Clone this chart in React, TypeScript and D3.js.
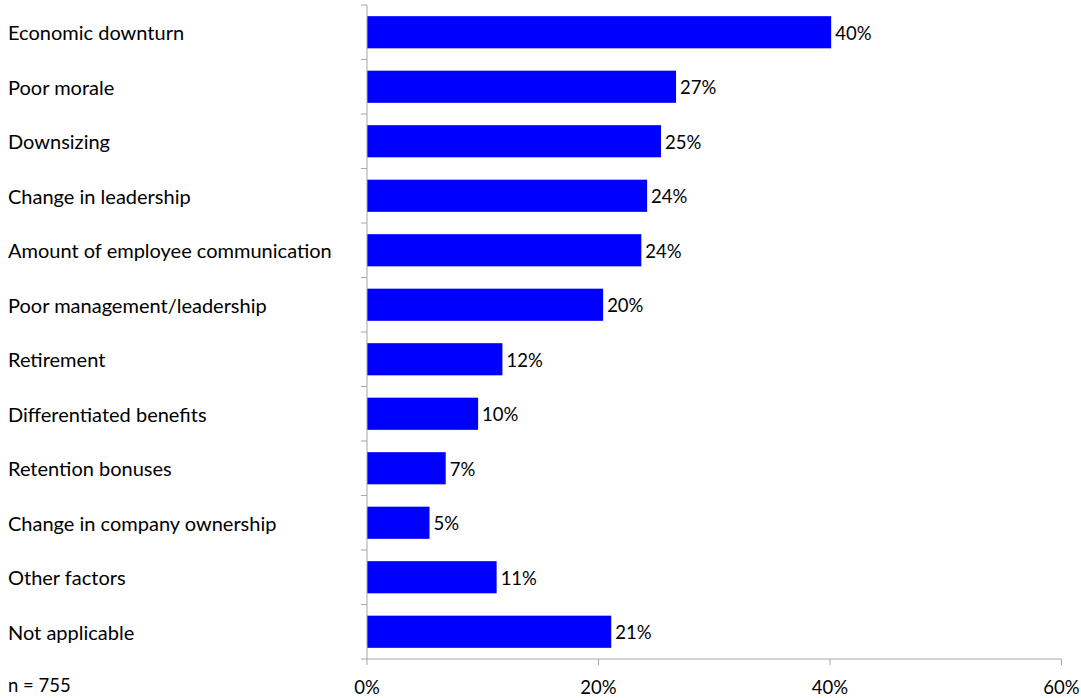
import React from "react";
import * as d3 from "d3";

const categories = [
  "Economic downturn",
  "Poor morale",
  "Downsizing",
  "Change in leadership",
  "Amount of employee communication",
  "Poor management/leadership",
  "Retirement",
  "Differentiated benefits",
  "Retention bonuses",
  "Change in company ownership",
  "Other factors",
  "Not applicable",
];
const values = [40.1, 26.7, 25.4, 24.2, 23.7, 20.4, 11.7, 9.6, 6.8, 5.4, 11.2, 21.1];
const xTicks = [0, 20, 40, 60];
const note = "n = 755";

const W = 1081;
const H = 698;
const FONT = "Lato, 'Open Sans', sans-serif";

export default function App() {
  const x = d3.scaleLinear().domain([0, 60]).range([367, 1061.5]);
  const y = d3.scaleBand<string>().domain(categories).range([5, 659]).paddingInner(0.41).paddingOuter(0.205);
  const step = y.step();
  const bandTop = 5;
  const axisY = 659;
  const grey = "#a6a6a6";
  return (
    <svg width={W} height={H} style={{ position: "absolute", left: 0, top: 0, background: "#fff" }} fontFamily={FONT}>
      {categories.map((c, i) => (
        <g key={c}>
          <rect x={x(0)} y={y(c)!} width={x(values[i]) - x(0)} height={y.bandwidth()} fill="#0000ff" />
          <text x={x(values[i]) + 4} y={y(c)! + y.bandwidth() / 2 + 7.5} fontSize={18.5} fill="#000">
            {Math.round(values[i])}%
          </text>
          <text x={8} y={y(c)! + y.bandwidth() / 2 + 8} fontSize={20} fill="#000">
            {c}
          </text>
        </g>
      ))}
      <line x1={x(0)} x2={x(0)} y1={bandTop} y2={axisY} stroke={grey} strokeWidth={1} />
      {d3.range(categories.length + 1).map((i) => (
        <line key={i} x1={x(0) - 6} x2={x(0)} y1={bandTop + i * step} y2={bandTop + i * step} stroke={grey} />
      ))}
      <line x1={x(0)} x2={x(60)} y1={axisY} y2={axisY} stroke={grey} />
      {xTicks.map((t) => (
        <g key={t}>
          <line x1={x(t)} x2={x(t)} y1={axisY} y2={axisY + 6} stroke={grey} />
          <text x={x(t)} y={694} textAnchor="middle" fontSize={18.5} fill="#000">
            {t}%
          </text>
        </g>
      ))}
      <text x={8} y={692} fontSize={18.5} fill="#000">
        {note}
      </text>
    </svg>
  );
}
